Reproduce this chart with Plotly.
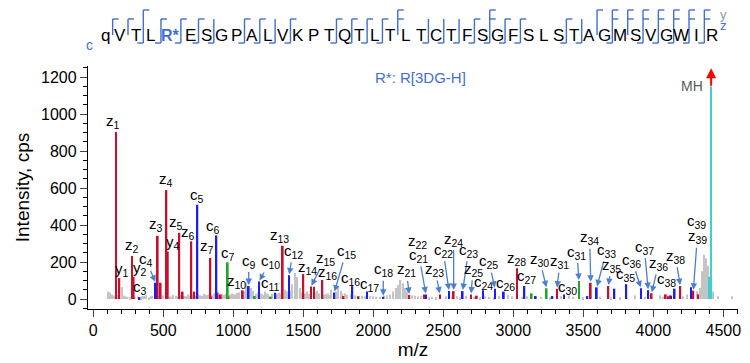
import plotly.graph_objects as go

# ---------------- data ----------------
sequence = ["q", "V", "T", "L", "R*", "E", "S", "G", "P", "A", "L", "V", "K", "P", "T", "Q", "T", "L", "T", "L",
            "T", "C", "T", "F", "S", "G", "F", "S", "L", "S", "T", "A", "G", "M", "S", "V", "G", "W", "I", "R"]

# cleavage sites (after residue k) covered in the fragment map
c_sites = [3, 4, 5, 6, 7, 9, 10, 11, 12, 15, 16, 17, 18, 21, 22, 23, 24, 25, 26, 27, 30, 31, 33, 35, 36, 37, 38, 39]
z_sites = [1, 2, 4, 5, 6, 9, 10, 12, 15, 16, 17, 18, 19, 24, 25, 26, 27, 30, 33, 34, 35, 36, 37, 38, 39]
y_sites = [3, 19, 25, 32, 33, 34, 35, 36, 37, 38, 39]

# labelled fragment ions
ion_names = ["z1", "y1", "z2", "y2", "c3", "c4", "z3", "z4", "y4", "z5", "z6", "c5", "z7", "c6", "c7", "z10",
             "c9", "c10", "c11", "z13", "c12", "z14", "z15", "z16", "c15", "c16", "c17", "c18", "z21", "z22",
             "c21", "z23", "c22", "z24", "c23", "z25", "c24", "c25", "c26", "z28", "c27", "z30", "z31", "c30",
             "c31", "z34", "c33", "z35", "c35", "c36", "c37", "z36", "c38", "z38", "c39", "z39"]
ion_mz = [163, 186, 276, 288, 329, 446, 460, 522, 532, 614, 700, 743, 836, 879, 960, 1067,
          1110, 1184, 1300, 1353, 1398, 1500, 1555, 1636, 1721, 1850, 1955, 2071, 2257, 2362,
          2376, 2476, 2541, 2574, 2638, 2698, 2784, 2869, 2932, 3026, 3079, 3238, 3312, 3362,
          3469, 3553, 3596, 3679, 3807, 3912, 3964, 3988, 4152, 4193, 4269, 4286]
ion_int = [903, 113, 232, 120, 10, 88, 342, 589, 256, 358, 312, 510, 222, 344, 198, 47,
           70, 95, 34, 288, 128, 135, 67, 103, 35, 70, 40, 12, 22, 25,
           25, 25, 43, 43, 43, 25, 48, 56, 40, 166, 70, 58, 56, 25,
           97, 88, 63, 70, 80, 58, 48, 31, 56, 70, 63, 45]
ion_series = ["red", "red", "red", "red", "blue", "blue", "red", "red", "red", "red", "red", "blue", "red", "blue",
              "green", "red", "blue", "blue", "blue", "red", "blue", "red", "red", "red", "blue", "blue", "blue",
              "blue", "red", "red", "blue", "red", "blue", "red", "blue", "red", "blue", "blue", "blue", "red",
              "blue", "green", "red", "blue", "green", "red", "blue", "red", "blue", "blue", "blue", "red", "blue",
              "red", "blue", "red"]

# unlabelled matched peaks
red_mz = [481, 638, 721, 840, 888, 910, 965, 1576, 1786, 1893, 2739, 4089, 4105, 4124, 4320]
red_int = [88, 40, 40, 12, 35, 25, 14, 66, 16, 15, 18, 25, 15, 20, 25]
blue_mz = [3160, 3279, 3529, 3722, 4127]
blue_int = [16, 16, 16, 56, 16]
green_mz = [1153, 1267, 3131]
green_int = [16, 13, 31]
cyan_mz = [4401]
cyan_int = [120]
mh_mz = 4413
mh_int = 1150   # off-scale precursor (shown clipped)

# unmatched peaks
gray_mz = [105, 118, 132, 150, 175, 203, 215, 228, 245, 262, 300, 320, 340, 352, 365, 375, 398, 410, 420, 440,
           470, 500, 520, 548, 560, 570, 590, 605, 625, 650, 660, 680, 690, 710, 730, 750, 760, 775, 790, 800,
           810, 825, 850, 860, 870, 900, 920, 935, 950, 975, 990, 1000, 1010, 1025, 1040, 1060, 1075, 1095, 1125,
           1140, 1165, 1175, 1195, 1200, 1215, 1225, 1240, 1250, 1280, 1310, 1320, 1330, 1345, 1370, 1385, 1410,
           1420, 1440, 1458, 1475, 1490, 1515, 1530, 1545, 1590, 1600, 1615, 1650, 1665, 1680, 1690, 1700, 1735,
           1750, 1768, 1780, 1800, 1815, 1840, 1870, 1900, 1920, 1940, 1980, 2000, 2024, 2050, 2080, 2100, 2120,
           2140, 2160, 2180, 2195, 2210, 2225, 2240, 2280, 2300, 2320, 2340, 2400, 2420, 2450, 2520, 2560, 2600,
           2620, 2660, 2720, 2760, 2800, 2830, 2860, 2900, 2960, 2990, 3060, 3100, 3200, 3260, 3340, 3400, 3430,
           3500, 3620, 3700, 3760, 3869, 3940, 4048, 4070, 4210, 4240, 4310, 4335, 4346, 4362, 4376, 4391, 4426,
           4462, 4560]
gray_int = [40, 35, 25, 18, 22, 65, 20, 15, 12, 10, 12, 14, 10, 15, 18, 20, 10, 15, 18, 12,
            14, 20, 16, 15, 12, 22, 18, 14, 20, 16, 15, 25, 18, 22, 16, 24, 20, 18, 28, 22,
            22, 26, 20, 30, 24, 20, 25, 22, 28, 24, 30, 26, 25, 32, 35, 28, 40, 90, 60,
            45, 28, 35, 25, 30, 22, 40, 30, 25, 28, 24, 30, 35, 28, 50, 40, 45,
            80, 140, 120, 60, 35, 30, 40, 28, 35, 45, 30, 24, 28, 30, 22, 50, 40,
            67, 45, 30, 30, 22, 25, 20, 15, 18, 15, 15, 15, 12, 12, 18, 20, 25,
            40, 60, 75, 103, 85, 60, 40, 20, 18, 14, 15, 10, 12, 10, 15, 12, 15,
            10, 18, 12, 10, 15, 12, 10, 18, 20, 15, 12, 15, 12, 10, 15, 20, 12,
            10, 12, 10, 10, 20, 12, 20, 12, 15, 25, 40, 60, 150, 240, 220, 180, 40,
            15, 15]

x_ticks = [0, 500, 1000, 1500, 2000, 2500, 3000, 3500, 4000, 4500]
y_ticks = [0, 200, 400, 600, 800, 1000, 1200]

# ---------------- style / layout ----------------
PAGE_OFF = 8                     # default body margin of the html page
W, H = 750 - PAGE_OFF, 363 - PAGE_OFF
PL, PR, PT, PB = 88, 738, 66, 309   # plot area edges in page pixels
ML, MR, MT, MB = PL - PAGE_OFF, 750 - PR, PT - PAGE_OFF, 363 - PB
PW, PH = PR - PL, PB - PT
FONT = "Liberation Sans, Arial, sans-serif"
COL = {"red": "#c8102e", "blue": "#1c1cf5", "green": "#22a522", "gray": "#c4c4c4", "cyan": "#3fcfcf"}
ARROW = "#4a7fd4"
HBLUE = "#3f6fd3"

# label placement: (dx, dy, arrow) pixel offset of label from peak top (dy>0 is down)
place = {
    "z1": (-3, -11, 0), "y1": (3, -9, 0), "z2": (0, -11, 0), "y2": (6, -8, 0), "c3": (1, -10, 0),
    "c4": (-10, -23, 1), "z3": (-2, -11, 0), "z4": (0, -11, 0), "y4": (5, -9, 0), "z5": (-3, -10, 0),
    "z6": (-3, -9, 0), "c5": (0, -9, 0), "z7": (-3, -11, 0), "c6": (-3, -9, 0), "c7": (0, -9, 0),
    "z10": (-6, -9, 0), "c9": (0, -25, 1), "c10": (11, -20, 1), "c11": (-5, -9, 0), "z13": (-3, -10, 0),
    "c12": (4, -24, 1), "z14": (4, -7, 0), "z15": (14, -28, 1), "z16": (5, -7, 0), "c15": (12, -41, 1),
    "c16": (-2, -8, 0), "c17": (2, -7, 0), "c18": (0, -27, 1), "z21": (-3, -25, 1), "z22": (-6, -53, 0),
    "c21": (-7, -39, 1), "z23": (-5, -25, 1), "c22": (-6, -41, 1), "z24": (0, -52, 1), "c23": (6, -41, 1),
    "z25": (2, -25, 1), "c24": (0, -8, 0), "c25": (-6, -27, 1), "c26": (2, -8, 0), "z28": (0, -10, 0),
    "c27": (2, -10, 0), "z30": (-7, -29, 1), "z31": (3, -27, 1), "c30": (4, -7, 0), "c31": (-2, -29, 1),
    "z34": (-1, -45, 1), "c33": (10, -37, 1), "z35": (3, -21, 1), "c35": (-1, -10, 0), "c36": (-9, -28, 1),
    "c37": (-4, -43, 1), "z36": (7, -30, 1), "c38": (-8, -9, 0), "z38": (-5, -30, 1), "c39": (6, -66, 0),
    "z39": (4, -54, 1),
}

fig = go.Figure()

def add_bars(xs, ys, color, width):
    fig.add_trace(go.Bar(x=xs, y=ys, width=width, marker=dict(color=color, line=dict(width=0)),
                         hoverinfo="skip", showlegend=False))

add_bars(gray_mz, gray_int, COL["gray"], 10)
for s in ["red", "blue", "green"]:
    xs = [m for m, c in zip(ion_mz, ion_series) if c == s]
    ys = [v for v, c in zip(ion_int, ion_series) if c == s]
    extra = {"red": (red_mz, red_int), "blue": (blue_mz, blue_int), "green": (green_mz, green_int)}[s]
    add_bars(xs + extra[0], ys + extra[1], COL[s], 13)
add_bars(cyan_mz + [mh_mz], cyan_int + [mh_int], COL["cyan"], 13)

ann = []
for name, mz, it in zip(ion_names, ion_mz, ion_int):
    dx, dy, arrow = place[name]
    txt = f"{name[0]}<sub>{name[1:]}</sub>"
    if arrow:
        ann.append(dict(x=mz, y=it, xref="x", yref="y", text=txt, showarrow=True, ax=dx, ay=dy,
                        arrowhead=2, arrowsize=1, arrowwidth=1.3, arrowcolor=ARROW, standoff=1,
                        font=dict(family=FONT, size=15, color="black")))
    else:
        ann.append(dict(x=mz, y=it, xref="x", yref="y", text=txt, showarrow=False,
                        xanchor="center", yanchor="middle",
                        xshift=dx, yshift=-dy, font=dict(family=FONT, size=15, color="black")))

# precursor
ann.append(dict(x=mh_mz, y=1248, xref="x", yref="y", text="", showarrow=True, ax=0, ay=19,
                arrowhead=2, arrowsize=1, arrowwidth=2, arrowcolor="#ff0000", standoff=0))
ann.append(dict(x=mh_mz, y=mh_int, xref="x", yref="y", text="MH", showarrow=False, xshift=-19, yshift=0,
                xanchor="center", yanchor="middle", font=dict(family=FONT, size=14, color="#5a5a5a")))

# ---------------- sequence header ----------------
def px(xp):
    return (xp - PL) / PW

def py(yp):
    return (PB - yp) / PH

def paper_text(xp, yp, text, size, color):
    return dict(x=px(xp), y=py(yp), xref="paper", yref="paper", text=text, showarrow=False,
                xanchor="center", yanchor="middle", font=dict(family=FONT, size=size, color=color))

ann.append(paper_text(420, 77, "R*: R[3DG-H]", 15, HBLUE))

# residue centres: R* takes a wider slot
widths = [1.6 if aa == "R*" else 1.0 for aa in sequence]
units = sum((widths[i] + widths[i + 1]) / 2 for i in range(len(sequence) - 1))
x_first, x_last = 105, 712
unit = (x_last - x_first) / units
centres = [x_first]
for i in range(1, len(sequence)):
    centres.append(centres[-1] + unit * (widths[i - 1] + widths[i]) / 2)

for i, aa in enumerate(sequence):
    if aa == "R*":
        ann.append(paper_text(centres[i], 35, "<b>R*</b>", 16, HBLUE))
    else:
        ann.append(paper_text(centres[i], 35, aa, 17, "black"))
ann.append(paper_text(89, 45, "c", 14, HBLUE))
ann.append(paper_text(723, 15, "y", 13, "#8a97ad"))
ann.append(paper_text(723, 25, "z", 13, HBLUE))

shapes = []
ln = dict(color=HBLUE, width=1.4)
for k in range(1, len(sequence)):
    hc, hz, hy = k in c_sites, k in z_sites, k in y_sites
    if not (hc or hz or hy):
        continue
    xs = (centres[k - 1] + centres[k]) / 2
    top = 10 if hy else 19
    bot = 43 if hc else 35
    shapes.append(dict(type="line", xref="paper", yref="paper", x0=px(xs), x1=px(xs), y0=py(top), y1=py(bot), line=ln))
    if hy:
        shapes.append(dict(type="line", xref="paper", yref="paper", x0=px(xs), x1=px(xs + 6), y0=py(10), y1=py(10), line=ln))
    if hz:
        shapes.append(dict(type="line", xref="paper", yref="paper", x0=px(xs), x1=px(xs + 6), y0=py(19), y1=py(19), line=ln))
    if hc:
        shapes.append(dict(type="line", xref="paper", yref="paper", x0=px(xs), x1=px(xs - 6), y0=py(43), y1=py(43), line=ln))

fig.update_layout(
    width=W, height=H, margin=dict(l=ML, r=MR, t=MT, b=MB, autoexpand=False),
    paper_bgcolor="white", plot_bgcolor="white", barmode="overlay",
    annotations=ann, shapes=shapes, showlegend=False,
    font=dict(family=FONT, color="black"),
)
fig.update_xaxes(range=[-38, 4605], tickvals=x_ticks, ticks="outside", ticklen=7, tickwidth=1.2, automargin=False,
                 showline=True, linecolor="black", linewidth=1.3, showgrid=False, zeroline=False,
                 tickfont=dict(family=FONT, size=16), title=dict(text="m/z", font=dict(family=FONT, size=19), standoff=4),
                 minor=dict(dtick=100, tick0=0, ticks="outside", ticklen=4, tickcolor="black", tickwidth=1))
fig.update_yaxes(range=[-54, 1260], tickvals=y_ticks, ticks="outside", ticklen=7, tickwidth=1.2, automargin=False,
                 showline=True, linecolor="black", linewidth=1.3, showgrid=False, zeroline=False,
                 tickfont=dict(family=FONT, size=16), title=dict(text="Intensity, cps", font=dict(family=FONT, size=19), standoff=6),
                 minor=dict(dtick=50, tick0=0, ticks="outside", ticklen=4, tickcolor="black", tickwidth=1))

fig.write_html("out.html")
